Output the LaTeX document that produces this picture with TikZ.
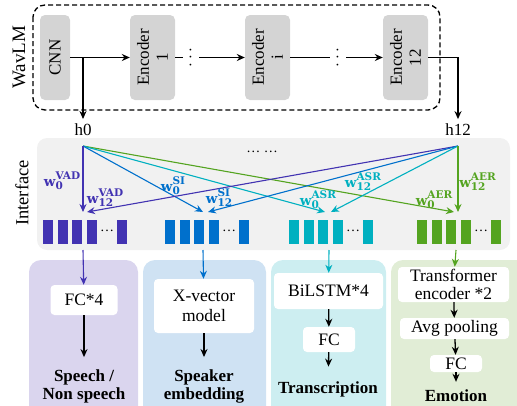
\documentclass[tikz,border=0pt]{standalone}
\usepackage{fontspec}
\setmainfont{Liberation Serif}
\newfontfamily\wfont{DejaVu Serif}
\usetikzlibrary{arrows.meta,positioning}

\definecolor{vadc}{RGB}{66,51,178}
\definecolor{sic}{RGB}{0,112,204}
\definecolor{asrc}{RGB}{0,176,192}
\definecolor{aerc}{RGB}{84,164,32}
\definecolor{vadbg}{RGB}{218,213,238}
\definecolor{sibg}{RGB}{207,226,243}
\definecolor{asrbg}{RGB}{205,238,241}
\definecolor{aerbg}{RGB}{225,237,214}
\definecolor{encgray}{RGB}{212,212,212}
\definecolor{ifbg}{RGB}{241,241,241}

\newcommand{\wtag}[2]{w\rlap{\raisebox{-3pt}{\fontsize{10.5}{10.5}\selectfont #2}}\raisebox{7pt}{\fontsize{10.5}{10.5}\selectfont #1}}

\tikzset{
  encbox/.style={fill=encgray, rounded corners=5pt, rotate=90, align=center,
    minimum width=85pt, inner sep=0pt, font=\fontsize{17}{19}\selectfont},
  vdot/.style={rotate=90, inner sep=4pt, font=\fontsize{17}{17}\selectfont},
  hlab/.style={inner sep=0pt, outer sep=5pt, font=\fontsize{17}{17}\selectfont},
  arr/.style={-{Stealth[length=8pt,width=7pt]}, line width=1.3pt},
  wline/.style={-{Stealth[length=8pt,width=7pt]}, line width=1.1pt},
  wlab/.style={inner sep=0pt, font=\wfont\bfseries\fontsize{13.5}{14}\selectfont},
  inbox/.style={fill=white, rounded corners=4pt, align=center, inner sep=0pt,
    font=\fontsize{17.5}{18}\selectfont},
  outtxt/.style={align=center, inner sep=0pt, font=\bfseries\fontsize{17}{18}\selectfont}
}

\begin{document}
\begin{tikzpicture}[x=1pt,y=-1pt]
\useasboundingbox (0,0) rectangle (517,405);

% WavLM
\draw[line width=1.3pt, dash pattern=on 5pt off 3pt, rounded corners=12pt] (33,5) rectangle (440,110);
\node[rotate=90, font=\fontsize{19}{19}\selectfont] (wavlm) at (19,57) {WavLM};
\node[encbox, minimum height=30pt] (cnn) at (55,57.5) {CNN};
\node[encbox, minimum height=45pt] (enc1) at (152.5,57.5) {Encoder\\1};
\node[encbox, minimum height=45pt] (enci) at (267.5,57.5) {Encoder\\i};
\node[encbox, minimum height=45pt] (enc12) at (405.5,57.5) {Encoder\\12};
\node[vdot] (d1) at (191,57.5) {$\cdots$};
\node[vdot] (d2) at (338,57.5) {$\cdots$};
\node[hlab] (h0) at (83,130) {h0};
\node[hlab] (h12) at (458,130) {h12};
\coordinate (b0) at (83,57.5);
\draw[arr] (cnn) -- (enc1);
\draw[arr] (b0) -- (h0);
\draw[line width=1.3pt] (enc1) -- (d1);
\draw[arr] (d1) -- (enci);
\draw[line width=1.3pt] (enci) -- (d2);
\draw[arr] (d2) -- (enc12);
\draw[arr] (enc12) -| (h12);

% interface
\fill[ifbg, rounded corners=10pt] (37,138) rectangle (510,250);
\node[rotate=90, font=\fontsize{18.5}{18.5}\selectfont] (iface) at (22,193) {Interface};
\node[font=\fontsize{14}{14}\selectfont] (more) at (262,152) {… …};
\foreach \c/\x in {vadc/43, sic/165, asrc/289, aerc/417} {
  \foreach \i in {0,1,2,3}
    \fill[\c] (\x+\i*14.6,220) rectangle +(10,24);
  \fill[\c] (\x+74,220) rectangle +(10,24);
  \node[font=\fontsize{14}{14}\selectfont] at (\x+64,231) {…};
}
\coordinate (src0) at (83,146);
\coordinate (src12) at (458,146);
\coordinate (vad0) at (83,212);
\coordinate (vad12) at (87,212);
\coordinate (si0) at (203,212);
\coordinate (si12) at (208,212);
\coordinate (asr0) at (325,212);
\coordinate (asr12) at (331,212);
\coordinate (aer0) at (454,212);
\coordinate (aer12) at (458,212);
\draw[wline, aerc] (src0) -- (aer0);
\draw[wline, asrc] (src0) -- (asr0);
\draw[wline, sic] (src0) -- (si0);
\draw[wline, vadc] (src0) -- (vad0);
\draw[wline, vadc] (src12) -- (vad12);
\draw[wline, sic] (src12) -- (si12);
\draw[wline, asrc] (src12) -- (asr12);
\draw[wline, aerc] (src12) -- (aer12);
\node[wlab, text=vadc] (lvad0) at (62,181) {\wtag{VAD}{0}};
\node[wlab, text=vadc] (lvad12) at (105,197.5) {\wtag{VAD}{12}};
\node[wlab, text=sic] (lsi0) at (173,186) {\wtag{SI}{0}};
\node[wlab, text=sic] (lsi12) at (218,198) {\wtag{SI}{12}};
\node[wlab, text=asrc] (lasr0) at (318,200) {\wtag{ASR}{0}};
\node[wlab, text=asrc] (lasr12) at (363,182) {\wtag{ASR}{12}};
\node[wlab, text=aerc] (laer0) at (434,199.5) {\wtag{AER}{0}};
\node[wlab, text=aerc] (laer12) at (477.5,181.5) {\wtag{AER}{12}};

% tasks
\fill[vadbg, rounded corners=12pt] (29,260) rectangle (138,420);
\fill[sibg, rounded corners=12pt] (143,260) rectangle (266,420);
\fill[asrbg, rounded corners=12pt] (271,260) rectangle (386,420);
\fill[aerbg, rounded corners=12pt] (391,260) rectangle (530,420);
\node[inbox, minimum width=67pt, minimum height=30pt] (fc4) at (84,300) {FC*4};
\node[inbox, minimum width=100pt, minimum height=54pt, font=\fontsize{17.5}{20}\selectfont] (xvec) at (204,306) {X-vector\\model};
\node[inbox, minimum width=109pt, minimum height=36pt] (bilstm) at (328.5,291) {BiLSTM*4};
\node[inbox, minimum width=52pt, minimum height=25pt] (fca) at (329,339.5) {FC};
\node[inbox, minimum width=111pt, minimum height=35pt, font=\fontsize{17.5}{17.5}\selectfont] (trans) at (453.5,284.5) {Transformer\\encoder *2};
\node[inbox, minimum width=109pt, minimum height=21pt] (avg) at (454.5,328.5) {Avg pooling};
\node[inbox, minimum width=52pt, minimum height=17pt] (fce) at (456,363.5) {FC};
\node[outtxt] (outvad) at (84,386) {Speech /\\Non speech};
\node[outtxt] (outsi) at (204,386) {Speaker\\embedding};
\node[outtxt] (outasr) at (328,389.5) {Transcription};
\node[outtxt] (outaer) at (456,396) {Emotion};
\coordinate (vadout) at (83,250);
\coordinate (siout) at (203,250);
\coordinate (asrout) at (329,250);
\coordinate (aerout) at (456,250);
\draw[wline, vadc] (vadout) -- (fc4);
\draw[wline, sic] (siout) -- (xvec);
\draw[wline, asrc] (asrout) -- (bilstm);
\draw[wline, aerc] (aerout) -- (trans);
\draw[arr, shorten >=12pt] (fc4) -- (outvad);
\draw[arr, shorten >=12pt] (xvec) -- (outsi);
\draw[arr] (bilstm) -- (fca);
\draw[arr, shorten >=15pt] (fca) -- (outasr);
\draw[arr] (trans) -- (avg);
\draw[arr] (avg) -- (fce);
\draw[arr, shorten >=8pt] (fce) -- (outaer);
\end{tikzpicture}
\end{document}
